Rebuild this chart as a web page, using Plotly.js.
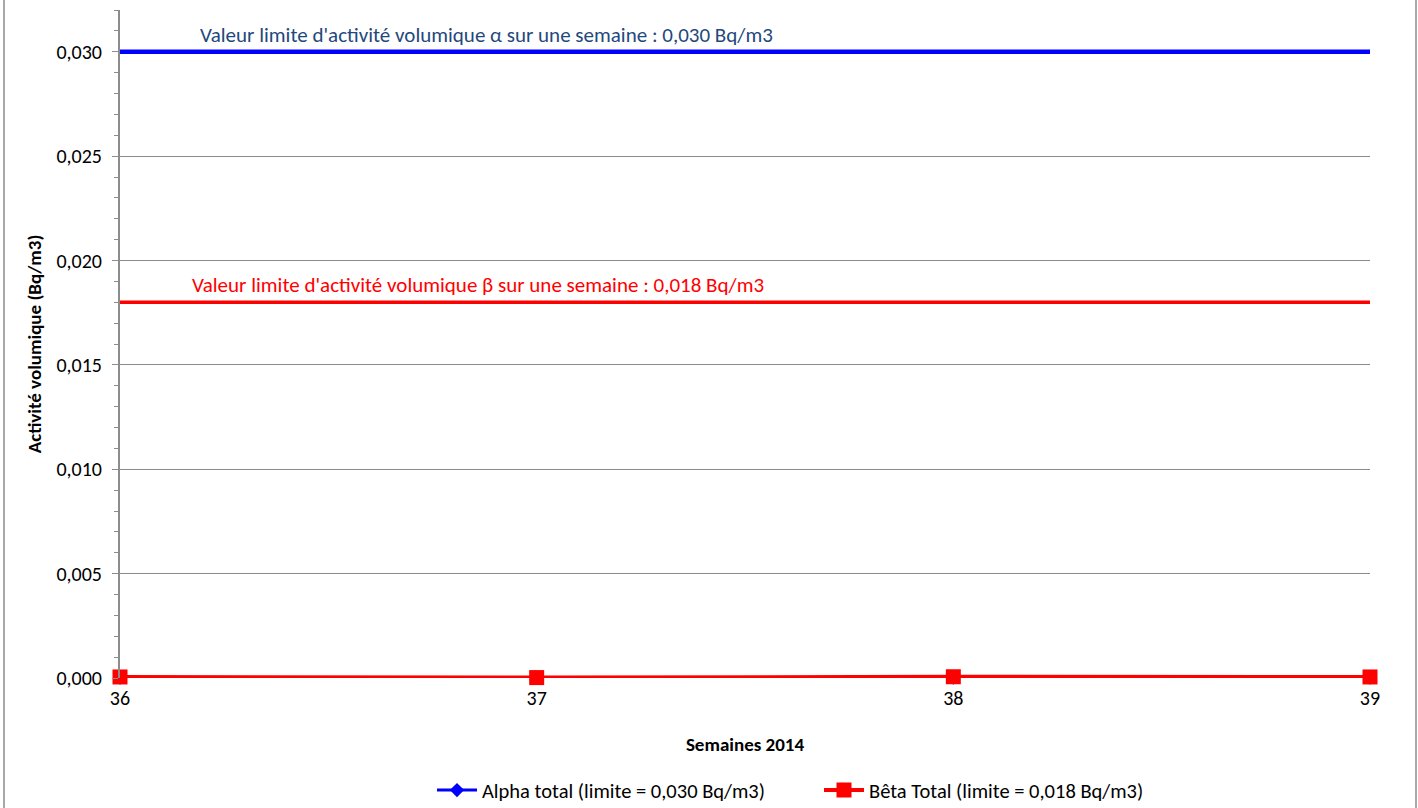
<!DOCTYPE html>
<html><head><meta charset="utf-8">
<script src="https://cdn.plot.ly/plotly-3.0.1.min.js"></script>
<style>html,body{margin:0;padding:0;background:#fff}#c{width:1418px;height:808px}</style>
</head><body><div id="c"></div>
<script>
const weeks = [36, 37, 38, 39];
const alphaTotal = [0.00002, 0.00001, 0.00002, 0.00002];
const betaTotal = [0.00005, 0.00002, 0.00006, 0.00005];
const alphaLimit = 0.030;
const betaLimit = 0.018;
const alphaLabel = "Valeur limite d'activité volumique α sur une semaine : 0,030 Bq/m3";
const betaLabel = "Valeur limite d'activité volumique β sur une semaine : 0,018 Bq/m3";
const yTicks = [0, 0.005, 0.010, 0.015, 0.020, 0.025, 0.030];

const font = "Carlito, Calibri, 'Open Sans', 'Noto Sans', sans-serif";
const traces = [
  {x: [weeks[0], weeks[weeks.length-1]], y: [alphaLimit, alphaLimit], mode: 'lines',
   line: {color: '#0000FF', width: 4.5}, showlegend: false, hoverinfo: 'skip'},
  {x: [weeks[0], weeks[weeks.length-1]], y: [betaLimit, betaLimit], mode: 'lines',
   line: {color: '#FF0000', width: 3.5}, showlegend: false, hoverinfo: 'skip'},
  {x: weeks, y: alphaTotal, name: 'Alpha total (limite = 0,030 Bq/m3)', mode: 'lines+markers',
   cliponaxis: false,
   line: {color: '#0000FF', width: 3}, marker: {symbol: 'diamond', size: 11, color: '#0000FF'}},
  {x: weeks, y: betaTotal, name: 'Bêta Total (limite = 0,018 Bq/m3)', mode: 'lines+markers',
   cliponaxis: false,
   line: {color: '#FF0000', width: 4}, marker: {symbol: 'square', size: 15, color: '#FF0000'}}
];
const layout = {
  width: 1418, height: 808,
  margin: {l: 120, r: 48, t: 10, b: 130, autoexpand: false},
  separators: ', ',
  paper_bgcolor: '#fff', plot_bgcolor: '#fff',
  font: {family: font, size: 20, color: '#000'},
  showlegend: true,
  legend: {orientation: 'h', x: 0.2496, xanchor: 'left', y: -0.168, yanchor: 'middle',
           font: {size: 20.5}, itemwidth: 40, tracegroupgap: 0, entrywidth: 332},
  xaxis: {range: [36, 39], tickvals: weeks, ticktext: weeks.map(String),
          showgrid: false, zeroline: false, showline: false, ticks: '',
          tickfont: {size: 20}, ticklabelstandoff: 6,
          title: {text: '<b>Semaines 2014</b>', font: {size: 19}, standoff: 28}},
  yaxis: {range: [0, 0.032], tickvals: yTicks, tickformat: '.3f',
          showgrid: true, gridcolor: '#8c8c8c', gridwidth: 1, zeroline: false,
          showline: true, linecolor: '#8c8c8c', linewidth: 2,
          ticks: 'outside', ticklen: 6, tickcolor: '#8c8c8c', tickwidth: 1,
          minor: {dtick: 0.001, ticks: 'outside', ticklen: 4, tickcolor: '#8c8c8c', showgrid: false},
          tickfont: {size: 20}, ticklabelstandoff: 6,
          title: {text: '<b>Activité volumique (Bq/m3)</b>', font: {size: 19}, standoff: 10}},
  annotations: [
    {x: 36.88, y: alphaLimit, xref: 'x', yref: 'y', text: alphaLabel, showarrow: false,
     yanchor: 'bottom', yshift: 2, font: {size: 21, color: '#1F497D'}},
    {x: 36.86, y: betaLimit, xref: 'x', yref: 'y', text: betaLabel, showarrow: false,
     yanchor: 'bottom', yshift: 2, font: {size: 21, color: '#FF0000'}}
  ],
  shapes: [
    {type: 'rect', xref: 'paper', yref: 'paper', x0: -0.0928, x1: 1.0368, y0: -0.25, y1: 1.03,
     line: {color: '#8c8c8c', width: 1.5}, fillcolor: 'rgba(0,0,0,0)', layer: 'below'}
  ]
};
Plotly.newPlot('c', traces, layout, {displayModeBar: false, staticPlot: true});
</script>
</body></html>
